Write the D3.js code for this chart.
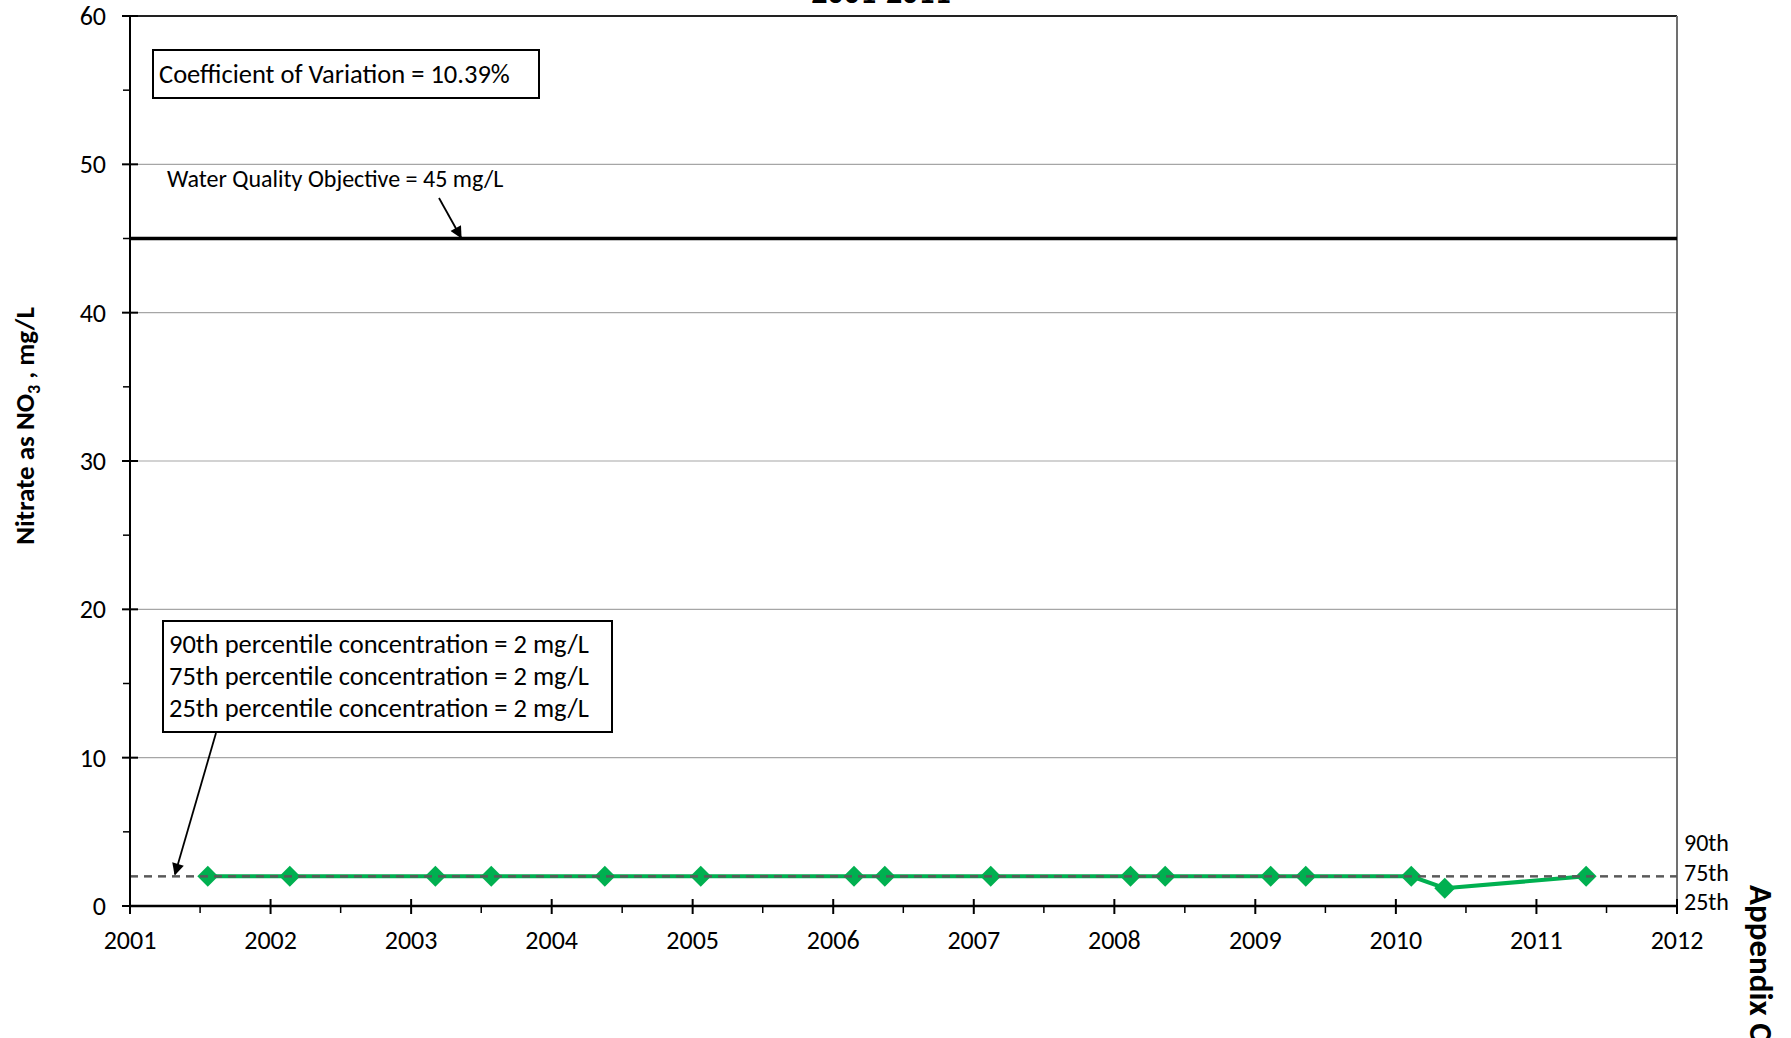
<!DOCTYPE html>
<html>
<head>
<meta charset="utf-8">
<script src="https://cdn.jsdelivr.net/npm/d3@7/dist/d3.min.js"></script>
<style>
  html, body { margin: 0; padding: 0; background: #fff; }
  svg { display: block; font-family: Carlito, Lato, "Open Sans", sans-serif; }
</style>
</head>
<body>
<svg id="chart" width="1791" height="1038"></svg>
<script>
// ---- data ----
const sampleDates = ["2001-07-22","2002-02-20","2003-03-05","2003-07-28","2004-05-18","2005-01-22",
  "2006-02-24","2006-05-15","2007-02-14","2008-02-12","2008-05-12","2009-02-10","2009-05-12",
  "2010-02-10","2010-05-08","2011-05-10"];
const nitrateValues = [2, 2, 2, 2, 2, 2, 2, 2, 2, 2, 2, 2, 2, 2, 1.2, 2];
const yTicks = [0, 10, 20, 30, 40, 50, 60];
const yMinorTicks = [5, 15, 25, 35, 45, 55];
const xTickYears = [2001, 2002, 2003, 2004, 2005, 2006, 2007, 2008, 2009, 2010, 2011, 2012];
const waterQualityObjective = 45;
const percentiles = [
  { label: "90th", value: 2 },
  { label: "75th", value: 2 },
  { label: "25th", value: 2 }
];
const coefficientOfVariation = "10.39%";
const titleText = "2001-2011";

// ---- layout ----
const L = 130, R = 1677, T = 16, B = 906;
const svg = d3.select("#chart");
const parse = d3.timeParse("%Y-%m-%d");
const data = sampleDates.map((d, i) => ({ date: parse(d), value: nitrateValues[i] }));

const x = d3.scaleTime().domain([new Date(2001, 0, 1), new Date(2012, 0, 1)]).range([L, R]);
const y = d3.scaleLinear().domain([0, 60]).range([B, T]);

// title (mostly above the visible area, as in the reference)
svg.append("text").attr("x", 881).attr("y", 3).attr("text-anchor", "middle")
  .attr("font-weight", "bold").attr("font-size", 32).text(titleText);

// gridlines
svg.append("g").selectAll("line").data(yTicks.filter(v => v > 0 && v < 60)).join("line")
  .attr("x1", L).attr("x2", R).attr("y1", d => y(d)).attr("y2", d => y(d))
  .attr("stroke", "#a6a6a6").attr("stroke-width", 1.2);

// plot border top/right
svg.append("line").attr("x1", L).attr("x2", R).attr("y1", y(60)).attr("y2", y(60))
  .attr("stroke", "#222").attr("stroke-width", 2);
svg.append("line").attr("x1", R).attr("x2", R).attr("y1", T).attr("y2", B)
  .attr("stroke", "#707070").attr("stroke-width", 2);

// water quality objective line
svg.append("line").attr("x1", L).attr("x2", R)
  .attr("y1", y(waterQualityObjective)).attr("y2", y(waterQualityObjective))
  .attr("stroke", "#000").attr("stroke-width", 3.5);

// data line
svg.append("path").datum(data)
  .attr("d", d3.line().x(d => x(d.date)).y(d => y(d.value)))
  .attr("fill", "none").attr("stroke", "#00b050").attr("stroke-width", 4);
svg.append("g").selectAll("path").data(data).join("path")
  .attr("d", d3.symbol().type(d3.symbolSquare).size(220))
  .attr("transform", d => `translate(${x(d.date)},${y(d.value)}) rotate(45)`)
  .attr("fill", "#00b050");

// percentile dashed line (drawn over the series, as in the reference)
svg.append("g").selectAll("line").data(percentiles).join("line")
  .attr("x1", L).attr("x2", R).attr("y1", d => y(d.value)).attr("y2", d => y(d.value))
  .attr("stroke", "#595959").attr("stroke-width", 1.8).attr("stroke-dasharray", "8,6");

// y axis
const gy = svg.append("g");
gy.append("line").attr("x1", L).attr("x2", L).attr("y1", T).attr("y2", B)
  .attr("stroke", "#000").attr("stroke-width", 2);
gy.selectAll(".maj").data(yTicks).join("line")
  .attr("x1", L - 8).attr("x2", L + 8).attr("y1", d => y(d)).attr("y2", d => y(d))
  .attr("stroke", "#000").attr("stroke-width", 2);
gy.selectAll(".min").data(yMinorTicks).join("line")
  .attr("x1", L - 7).attr("x2", L).attr("y1", d => y(d)).attr("y2", d => y(d))
  .attr("stroke", "#000").attr("stroke-width", 1.5);
gy.selectAll("text").data(yTicks).join("text")
  .attr("x", L - 24).attr("y", d => y(d)).attr("dy", "0.35em").attr("text-anchor", "end")
  .attr("font-size", 26).attr("fill", "#000").text(d => d);

// x axis
const gx = svg.append("g");
gx.append("line").attr("x1", L).attr("x2", R).attr("y1", B).attr("y2", B)
  .attr("stroke", "#000").attr("stroke-width", 2.5);
const yearDates = xTickYears.map(yr => new Date(yr, 0, 1));
gx.selectAll(".maj").data(yearDates).join("line")
  .attr("x1", d => x(d)).attr("x2", d => x(d)).attr("y1", B - 7).attr("y2", B + 8)
  .attr("stroke", "#000").attr("stroke-width", 2);
gx.selectAll(".min").data(yearDates.slice(0, -1).map(d => new Date(d.getFullYear(), 6, 2))).join("line")
  .attr("x1", d => x(d)).attr("x2", d => x(d)).attr("y1", B).attr("y2", B + 7)
  .attr("stroke", "#000").attr("stroke-width", 1.5);
gx.selectAll("text").data(yearDates).join("text")
  .attr("x", d => x(d)).attr("y", B + 34).attr("dy", "0.35em").attr("text-anchor", "middle")
  .attr("font-size", 26).attr("fill", "#000").text(d => d.getFullYear());

// y axis label
svg.append("text").attr("transform", "translate(34,426) rotate(-90)")
  .attr("text-anchor", "middle").attr("font-weight", "bold").attr("font-size", 27)
  .call(t => {
    t.append("tspan").text("Nitrate as NO");
    t.append("tspan").attr("font-size", 18).attr("dy", 6).text("3");
    t.append("tspan").attr("dy", -6).text(" , mg/L");
  });

// percentile labels on right
svg.append("g").selectAll("text").data(percentiles).join("text")
  .attr("x", 1684).attr("y", (d, i) => 843 + i * 29.5).attr("dy", "0.35em")
  .attr("font-size", 24).text(d => d.label);

// Appendix C (cut off at the bottom edge, as in the reference)
svg.append("text").attr("transform", "translate(1750,885) rotate(90)")
  .attr("font-weight", "bold").attr("font-size", 33).text("Appendix C");

// CV box
svg.append("rect").attr("x", 153).attr("y", 50).attr("width", 386).attr("height", 48)
  .attr("fill", "#fff").attr("stroke", "#000").attr("stroke-width", 2);
svg.append("text").attr("x", 159).attr("y", 74).attr("dy", "0.35em").attr("font-size", 26.5)
  .text("Coefficient of Variation = " + coefficientOfVariation);

// arrow markers
const defs = svg.append("defs");
defs.append("marker").attr("id", "arr2").attr("viewBox", "0 0 10 10")
  .attr("refX", 9).attr("refY", 5).attr("markerWidth", 14).attr("markerHeight", 12)
  .attr("markerUnits", "userSpaceOnUse").attr("orient", "auto")
  .append("path").attr("d", "M0,0 L10,5 L0,10 z").attr("fill", "#000");

// WQO label + arrow
svg.append("text").attr("x", 167).attr("y", 179).attr("dy", "0.35em").attr("font-size", 24)
  .text("Water Quality Objective = " + waterQualityObjective + " mg/L");
svg.append("line").attr("x1", 439).attr("y1", 198).attr("x2", 461).attr("y2", y(waterQualityObjective) - 1)
  .attr("stroke", "#000").attr("stroke-width", 1.8).attr("marker-end", "url(#arr2)");

// percentile box
svg.append("rect").attr("x", 163).attr("y", 621).attr("width", 449).attr("height", 111)
  .attr("fill", "#fff").attr("stroke", "#000").attr("stroke-width", 2);
svg.append("g").selectAll("text").data(percentiles).join("text")
  .attr("x", 169).attr("y", (d, i) => 644 + i * 32).attr("dy", "0.35em").attr("font-size", 26.5)
  .text(d => `${d.label} percentile concentration = ${d.value} mg/L`);
svg.append("line").attr("x1", 216).attr("y1", 733).attr("x2", 175).attr("y2", y(percentiles[0].value) - 2)
  .attr("stroke", "#000").attr("stroke-width", 1.8).attr("marker-end", "url(#arr2)");
</script>
</body>
</html>
